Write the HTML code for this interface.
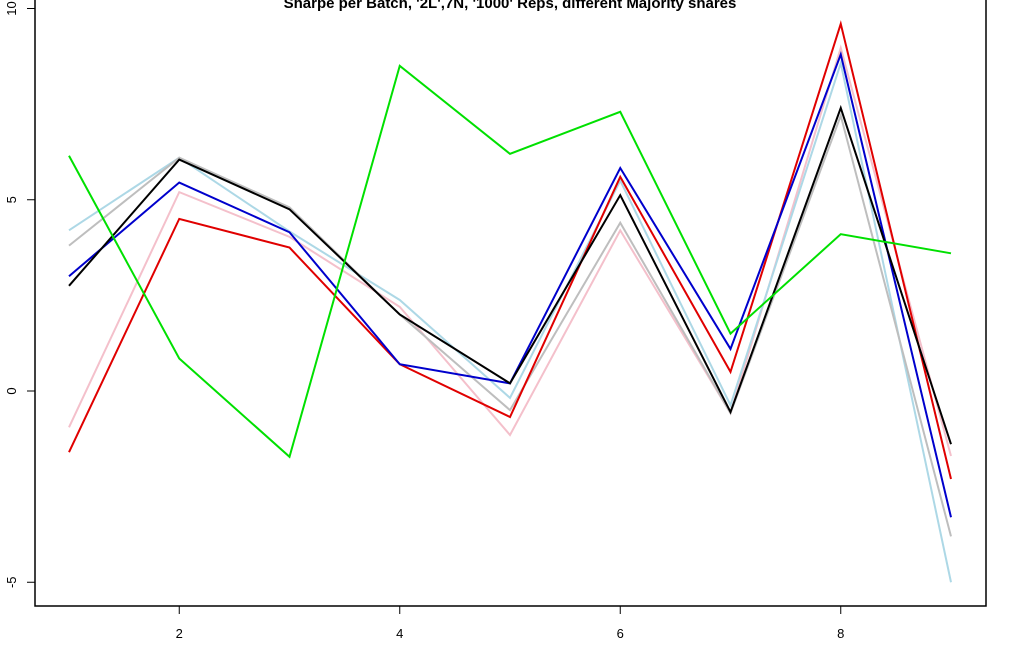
<!DOCTYPE html>
<html><head><meta charset="utf-8"><style>
html,body{margin:0;padding:0;background:#fff;}
svg{display:block;font-family:"Liberation Sans",Arial,sans-serif;}
</style></head><body>
<svg id="chart" width="1021" height="658" viewBox="0 0 1021 658" xmlns="http://www.w3.org/2000/svg">
<rect x="0" y="0" width="1021" height="658" fill="#fff"/>
<text x="510" y="8" text-anchor="middle" font-size="15" font-weight="bold">Sharpe per Batch, '2L',7N, '1000' Reps, different Majority shares</text>
<rect x="35" y="-5" width="951" height="611" fill="none" stroke="#000" stroke-width="1.5"/>
<g id="axes"></g>
<g id="series"></g>
</svg>
<script>
const batches = [1,2,3,4,5,6,7,8,9];
const xTicks = [2,4,6,8];
const yTicks = [-5,0,5,10];
const seriesNames = ["pink","lightblue","grey","red","blue","black","green"];
const pinkVals = [-0.95,5.2,4.03,2.2,-1.15,4.2,-0.58,8.97,-1.7];
const lightblueVals = [4.2,6.1,4.17,2.38,-0.18,5.5,-0.37,8.57,-5.0];
const greyVals = [3.8,6.1,4.8,2.0,-0.5,4.4,-0.58,7.2,-3.8];
const redVals = [-1.6,4.5,3.75,0.7,-0.68,5.6,0.5,9.6,-2.3];
const blueVals = [3.0,5.45,4.15,0.7,0.2,5.83,1.1,8.8,-3.3];
const blackVals = [2.75,6.05,4.75,2.0,0.2,5.12,-0.55,7.4,-1.39];
const greenVals = [6.15,0.85,-1.72,8.5,6.2,7.3,1.5,4.1,3.6];
const seriesColors = ["#f4c0cb","#add8e6","#bebebe","#e00000","#0000cc","#000000","#00e000"];

const xs = v => 69 + (v-1)*110.25;
const ys = v => 391 - v*38.25;
const NS="http://www.w3.org/2000/svg";
const axes=document.getElementById('axes');
xTicks.forEach(t=>{
  const l=document.createElementNS(NS,'line');
  l.setAttribute('x1',xs(t));l.setAttribute('x2',xs(t));l.setAttribute('y1',606);l.setAttribute('y2',614);l.setAttribute('stroke','#000');
  
  
  axes.appendChild(l);
  const tx=document.createElementNS(NS,'text');
  tx.setAttribute('x',xs(t));tx.setAttribute('y',638);tx.setAttribute('text-anchor','middle');tx.setAttribute('font-size','13');
  tx.textContent=t;
  
  
  axes.appendChild(tx);
});
yTicks.forEach(t=>{
  const l=document.createElementNS(NS,'line');
  l.setAttribute('x1',27);l.setAttribute('x2',35);l.setAttribute('y1',ys(t));l.setAttribute('y2',ys(t));l.setAttribute('stroke','#000');
  
  
  axes.appendChild(l);
  const tx=document.createElementNS(NS,'text');
  tx.setAttribute('x',16);tx.setAttribute('y',ys(t));tx.setAttribute('text-anchor','middle');tx.setAttribute('font-size','13');
  tx.setAttribute('transform','rotate(-90 16 '+ys(t)+')');
  tx.textContent=t;
  
  
  axes.appendChild(tx);
});
const allVals=[pinkVals,lightblueVals,greyVals,redVals,blueVals,blackVals,greenVals];
const sg=document.getElementById('series');
allVals.forEach((vals,i)=>{
  const p=document.createElementNS(NS,'polyline');
  p.setAttribute('points',vals.map((v,j)=>xs(batches[j])+','+ys(v)).join(' '));
  p.setAttribute('fill','none');p.setAttribute('stroke',seriesColors[i]);p.setAttribute('stroke-width','2');
  
  
  sg.appendChild(p);
});
</script>
</body></html>
